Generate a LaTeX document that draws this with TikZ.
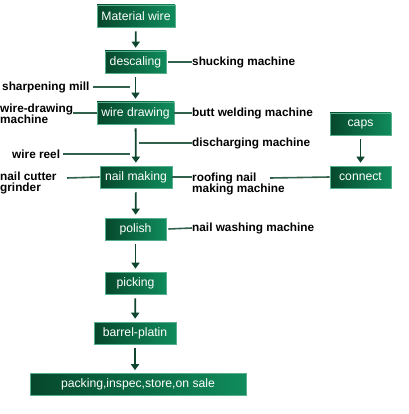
\documentclass[tikz,border=0pt]{standalone}
\usepackage{fontspec}
\setmainfont{Liberation Sans}
\usetikzlibrary{arrows.meta}
\begin{document}
\begin{tikzpicture}[x=1pt, y=-1pt, >={Triangle[width=8pt,length=6pt]}]
        % --- CONFIGURATION ---
        \definecolor{boxDark}{RGB}{6, 72, 44}      % vert foncé
        \definecolor{boxLight}{RGB}{16, 140, 92}   % vert clair
        \definecolor{lineGreen}{RGB}{14, 70, 46}
        \tikzset{
            stepbox/.style={shading=axis, left color=boxDark, right color=boxLight,
                draw=boxLight!70!white, line width=0.6pt, text=white,
                minimum height=22, inner sep=0pt, font=\fontsize{12.2}{13}\selectfont},
            machine/.style={anchor=west, align=left, inner sep=0pt,
                font=\bfseries\fontsize{11.8}{11.5}\selectfont},
            feed/.style={lineGreen!85, line width=1.6pt},
            flow/.style={->, lineGreen, line width=1.8pt, shorten <=4pt, shorten >=3pt}
        }
        \useasboundingbox (0,0) rectangle (408,414);

        % Chaîne principale
        \node[stepbox, minimum width=78] (material) at (136,16) {Material wire};
        \node[stepbox, minimum width=61] (descaling) at (135.5,62) {descaling};
        \node[stepbox, minimum width=77] (drawing) at (135.5,113) {wire drawing};
        \node[stepbox, minimum width=72] (nailmaking) at (136,177) {nail making};
        \node[stepbox, minimum width=61] (polish) at (135.5,229) {polish};
        \node[stepbox, minimum width=61] (picking) at (135.5,283) {picking};
        \node[stepbox, minimum width=82] (barrel) at (135,333) {barrel-platin};
        \node[stepbox, minimum width=216] (packing) at (138,384.5) {packing,inspec,store,on sale};

        % Branche de droite
        \node[stepbox, minimum width=61] (caps) at (360.5,124) {caps};
        \node[stepbox, minimum width=61] (connect) at (360.5,177) {connect};

        % Machines
        \node[machine] (shucking) at (192,62) {shucking machine};
        \node[machine] (sharpening) at (2,87) {sharpening mill};
        \node[machine] (drawmachine) at (0,114) {wire-drawing\\machine};
        \node[machine] (butt) at (192,113) {butt welding machine};
        \node[machine] (discharging) at (192,143) {discharging machine};
        \node[machine] (reel) at (12,154) {wire reel};
        \node[machine] (cutter) at (0,183) {nail cutter\\grinder};
        \node[machine] (roofing) at (192,184) {roofing nail\\making machine};
        \node[machine] (washing) at (192,228) {nail washing machine};

        % Points libres
        \coordinate (sharpEnd) at (130,87);
        \coordinate (reelEnd) at (130,154);
        \coordinate (dischStart) at (139,143);
        \coordinate (roofStart) at (270,178);
        \coordinate (cutterStart) at (67,178);

        % Flèches
        \draw[flow] (material) -- (descaling);
        \draw[flow] (descaling) -- (drawing);
        \draw[flow] (drawing) -- (nailmaking);
        \draw[flow] (nailmaking) -- (polish);
        \draw[flow] (polish) -- (picking);
        \draw[flow] (picking) -- (barrel);
        \draw[flow] (barrel) -- (packing.north -| barrel.south);
        \draw[flow] (caps) -- (connect);

        % Liaisons
        \draw[feed] (descaling.east) ++(2,0) -- (shucking.west);
        \draw[feed] (sharpening.east) ++(3,0) -- (sharpEnd);
        \draw[feed] (drawmachine.east |- drawing.west) -- (drawing.west);
        \draw[feed] (drawing.east) -- (butt.west |- drawing.east);
        \draw[feed] (dischStart) -- (discharging.west);
        \draw[feed] (reel.east) ++(3,0) -- (reelEnd);
        \draw[feed] (cutterStart) -- (nailmaking.west);
        \draw[feed] (nailmaking.east) -- (roofing.west |- nailmaking.east);
        \draw[feed] (roofStart) -- (connect.west);
        \draw[feed] (polish.east) ++(2,0) -- (washing.west);
    \end{tikzpicture}
\end{document}
